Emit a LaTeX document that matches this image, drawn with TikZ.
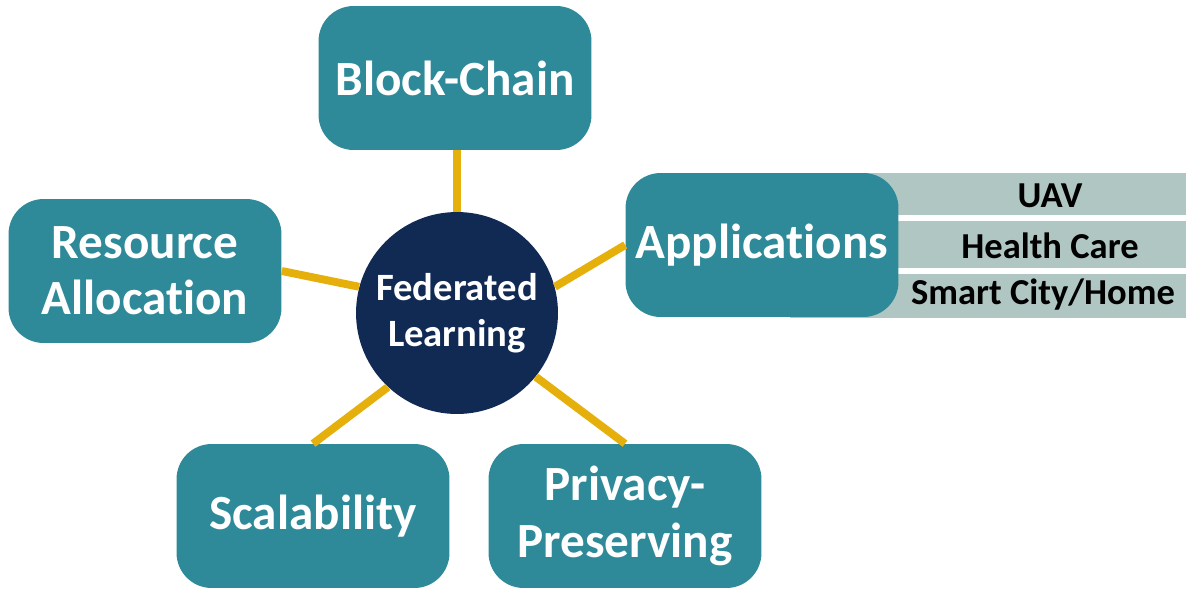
\documentclass[tikz,border=0pt]{standalone}
\usepackage{fontspec}
\setmainfont{Carlito}[Ligatures=NoCommon]
\definecolor{teal1}{RGB}{46,138,153}
\definecolor{navy1}{RGB}{16,42,84}
\definecolor{gold1}{RGB}{230,176,12}
\definecolor{band1}{RGB}{176,198,194}
\tikzset{
  topic/.style={fill=teal1, rounded corners=20pt, minimum width=5.46cm, minimum height=2.88cm,
    text=white, font=\bfseries\fontsize{28}{32}\selectfont, align=center, inner sep=0pt},
  hub/.style={circle, fill=navy1, minimum size=4.04cm, text=white, inner sep=0pt,
    font=\bfseries\fontsize{22}{26}\selectfont, align=center},
  link/.style={draw=gold1, line width=4.5pt},
  bandtext/.style={font=\bfseries\fontsize{20.8}{24}\selectfont, text=black, inner sep=0pt},
}
\begin{document}
\begin{tikzpicture}[x=0.02cm,y=-0.02cm]
\useasboundingbox (0,0) rectangle (1186,589);
% application bands
\fill[band1] (790,173) rectangle (1186,215);
\fill[band1] (790,221) rectangle (1186,268);
\fill[band1] (790,274) rectangle (1186,318);
\node[bandtext] (uav) at (1050,196) {UAV};
\node[bandtext] (hc) at (1050,246) {Health Care};
\node[bandtext] (sc) at (1043,295) {Smart City/Home};
% nodes
\node[hub] (fl) at (457,313) {Federated\\Learning};
\node[topic] (bc) at (455,78) {Block-Chain};
\node[topic] (app) at (762,245) {Applications};
\node[topic] (res) at (145,271) {Resource\\Allocation};
\node[topic] (scal) at (313,516) {Scalability};
\node[topic] (priv) at (625,516) {Privacy-\\Preserving};
% links
\draw[link] (fl.north) -- (fl.north |- bc.south);
\draw[link] (fl.15) -- (app.west);
\draw[link] (fl.165) -- (res.east);
\draw[link] (fl.227) -- (scal.north);
\draw[link] (fl.321) -- (priv.north);
\end{tikzpicture}
\end{document}
